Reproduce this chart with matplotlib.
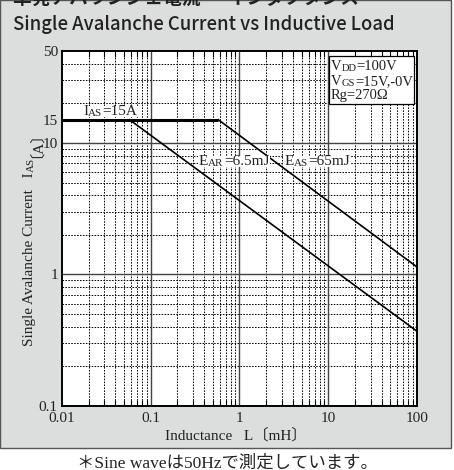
import matplotlib
matplotlib.use("Agg")
import matplotlib.pyplot as plt
from matplotlib.patches import Rectangle
from matplotlib.transforms import Bbox
import numpy as np

# ---- data ----
ias_L = [0.01, 0.578]          # mH
ias_I = [15, 15]               # A
ear_L = [0.0578, 100]
ear_I = [15, 0.37]
eas_L = [0.578, 100]
eas_I = [15, 1.14]

x_ticks = [0.01, 0.1, 1, 10, 100]
x_tick_labels = ["0.01", "0.1", "1", "10", "100"]
y_ticks = [0.1, 1, 10, 15, 50]
y_tick_labels = ["0.1", "1", "10", "15", "50"]

SERIF = ["Liberation Serif", "Noto Sans CJK JP"]
SANS = ["Noto Sans CJK JP", "DejaVu Sans"]
INK = "#222222"

W, H = 454, 470
fig = plt.figure(figsize=(W / 100, H / 100), dpi=100, facecolor="white")

# gray panel
panel = Rectangle((0, 1 - 448 / H), 451 / W, 448 / H, transform=fig.transFigure,
                  facecolor="#dcdedd", edgecolor="#555555", lw=1.0, zorder=-5)
fig.patches.append(panel)

ax = fig.add_axes([62 / W, 1 - 406 / H, 355 / W, 355 / H])
ax.set_zorder(2)
ax.set_facecolor("white")
ax.set_xscale("log")
ax.set_yscale("log")
ax.set_xlim(0.01, 100)
ax.set_ylim(0.1, 50)

# grid lines
for dec in [0.01, 0.1, 1, 10]:
    for m in range(2, 10):
        ax.axvline(dec * m, color="black", lw=0.7, ls=(0, (1.6, 1.4)), zorder=1)
for dec in [0.1, 1, 10]:
    for m in range(2, 10):
        v = dec * m
        if v < 50:
            ax.axhline(v, color="black", lw=0.7, ls=(0, (1.6, 1.4)), zorder=1)
for v in [0.1, 1, 10]:
    ax.axvline(v, color="#444444", lw=1.0, zorder=1.5)
for v in [1, 10]:
    ax.axhline(v, color="#444444", lw=1.0, zorder=1.5)

ax.plot(ias_L, ias_I, color="black", lw=2.2, solid_capstyle="butt", zorder=3)
ax.plot(ear_L, ear_I, color="black", lw=1.2, zorder=3)
ax.plot(eas_L, eas_I, color="black", lw=1.2, zorder=3)

ax.set_xticks(x_ticks)
ax.set_xticklabels(x_tick_labels)
ax.set_yticks(y_ticks)
ax.set_yticklabels(y_tick_labels)
ax.tick_params(which="major", direction="in", length=0, labelsize=11)
ax.tick_params(axis="x", which="major", pad=4.5)
ax.tick_params(axis="y", which="major", pad=3)
ax.tick_params(which="minor", direction="in", length=4, width=0.8, top=True, bottom=True,
               left=False, right=False)
ax.yaxis.set_minor_locator(matplotlib.ticker.NullLocator())
for lab in ax.get_xticklabels() + ax.get_yticklabels():
    lab.set_family(SERIF)
    lab.set_color(INK)
for s in ax.spines.values():
    s.set_linewidth(1.4)
    s.set_color("black")


def rich(x, y, parts, transform, base=10, rot=0):
    """draw text pieces [(text, small?)] one after another"""
    prev = None
    arts = []
    for txt, small in parts:
        fs = base * 0.72 if small else base
        if prev is None:
            t = ax.text(x, y, txt, transform=transform, fontsize=fs, family=SERIF,
                        ha="left", va="bottom", color=INK, zorder=5, rotation=rot,
                        clip_on=False)
        else:
            if rot == 0:
                t = ax.annotate(txt, xy=(1, 0), xycoords=prev, fontsize=fs, family=SERIF,
                                ha="left", va="bottom", color=INK, zorder=5,
                                annotation_clip=False)
            else:
                t = ax.annotate(txt, xy=(1, 1), xycoords=prev, fontsize=fs, family=SERIF,
                                ha="right", va="bottom", color=INK, zorder=5,
                                rotation=rot, annotation_clip=False)
        prev = t
        arts.append(t)
    return arts


def px2ax(px, py):
    return ((px - 62) / 355, (406 - py) / 355)


# curve labels
boxed = []
boxed.append(rich(*px2ax(83, 118), [("I", False), ("AS", True), ("=15A", False)], ax.transAxes, base=11))
boxed.append(rich(*px2ax(199, 168), [("E", False), ("AR", True), ("=6.5mJ", False)], ax.transAxes, base=11))
boxed.append(rich(*px2ax(285, 168), [("E", False), ("AS", True), ("=65mJ", False)], ax.transAxes, base=11))

# condition box
bx0, by0 = px2ax(329, 104)
bx1, by1 = px2ax(414, 56)
ax.add_patch(Rectangle((bx0, by0), bx1 - bx0, by1 - by0, transform=ax.transAxes,
                       facecolor="white", edgecolor="black", lw=0.9, zorder=4))
rich(*px2ax(331, 73), [("V", False), ("DD", True), ("=100V", False)], ax.transAxes, base=10.5)
rich(*px2ax(331, 88), [("V", False), ("GS", True), ("=15V,-0V", False)], ax.transAxes, base=10.5)
rich(*px2ax(331, 102), [("Rg=270Ω", False)], ax.transAxes, base=10.5)

# axis labels
fig.text(236 / W, 1 - 435 / H, "Inductance   L〔mH〕", family=SERIF, fontsize=11,
         ha="center", va="center", color=INK)
yl = rich(*px2ax(23, 346), [("Single Avalanche Current   I", False), ("AS", True), ("〔A〕", False)],
          ax.transAxes, base=11, rot=90)

# titles
fig.text(13 / W, 1 - 8 / H, "単発アバランシェ電流 ー インダクタンス", family=SANS, fontsize=13.5,
         fontweight="bold", ha="left", va="bottom", color=INK)
fig.text(13 / W, 1 - 30 / H, "Single Avalanche Current vs Inductive Load", family=SANS,
         fontsize=13.3, fontweight="medium", ha="left", va="baseline", color=INK)

# footnote
fig.text(227 / W, 1 - 468 / H, "＊Sine waveは50Hzで測定しています。", family=SERIF, fontsize=12.5,
         ha="center", va="baseline", color=INK)

# white backgrounds behind the curve labels
fig.canvas.draw()
renderer = fig.canvas.get_renderer()
inv = ax.transAxes.inverted()
for grp in boxed:
    bb = Bbox.union([t.get_window_extent(renderer) for t in grp])
    (x0, y0), (x1, y1) = inv.transform([[bb.x0 - 1, bb.y0 + 1], [bb.x1 + 1, bb.y1 - 1]])
    ax.add_patch(Rectangle((x0, y0), x1 - x0, y1 - y0, transform=ax.transAxes,
                           facecolor="white", edgecolor="none", zorder=4.5))

fig.savefig("out.png", dpi=100, facecolor="white")
